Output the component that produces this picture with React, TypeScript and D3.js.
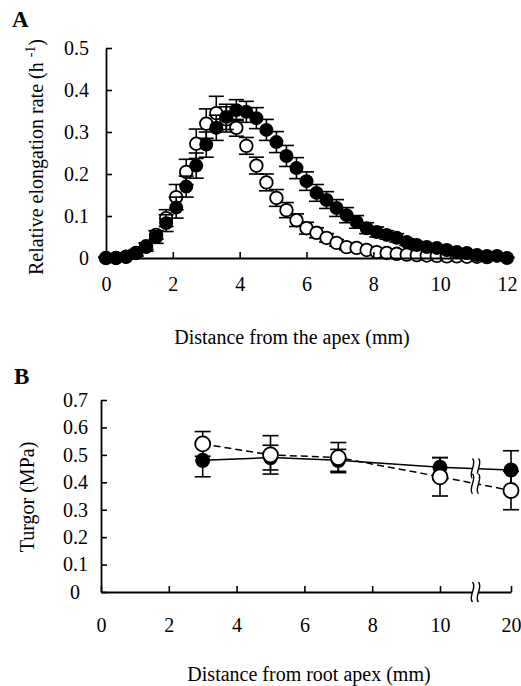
import React, { useEffect, useRef } from "react";
import * as d3 from "d3";

// panel A - relative elongation rate along the root
const distA = [0, 0.3, 0.6, 0.9, 1.2, 1.5, 1.8, 2.1, 2.4, 2.7, 3.0, 3.3, 3.6, 3.9, 4.2, 4.5, 4.8, 5.1, 5.4, 5.7,
  6.0, 6.3, 6.6, 6.9, 7.2, 7.5, 7.8, 8.1, 8.4, 8.7, 9.0, 9.3, 9.6, 9.9, 10.2, 10.5, 10.8, 11.1, 11.4, 11.7, 12.0];
const filledA = [0, 0, 0.003, 0.012, 0.026, 0.05, 0.083, 0.12, 0.17, 0.22, 0.27, 0.31, 0.336, 0.352, 0.348, 0.333,
  0.305, 0.276, 0.243, 0.214, 0.183, 0.155, 0.138, 0.119, 0.102, 0.086, 0.071, 0.062, 0.055, 0.048, 0.038, 0.031,
  0.026, 0.024, 0.019, 0.014, 0.012, 0.007, 0.005, 0.005, 0];
const filledErrA = [0.003, 0.003, 0.005, 0.008, 0.01, 0.015, 0.02, 0.025, 0.025, 0.03, 0.03, 0.03, 0.03, 0.025,
  0.025, 0.025, 0.025, 0.025, 0.025, 0.025, 0.022, 0.02, 0.02, 0.02, 0.018, 0.015, 0.013, 0.012, 0.01, 0.01, 0.008,
  0.008, 0.007, 0.006, 0.005, 0.005, 0.004, 0.004, 0.003, 0.003, 0.002];
const openA = [0, 0, 0.003, 0.012, 0.028, 0.055, 0.095, 0.145, 0.205, 0.272, 0.32, 0.345, 0.33, 0.31, 0.267, 0.22,
  0.18, 0.143, 0.114, 0.09, 0.071, 0.06, 0.048, 0.036, 0.026, 0.024, 0.019, 0.014, 0.012, 0.01, 0.008, 0.007,
  0.006, 0.005, 0.004, 0.004, 0.003, 0.003, 0.002];
const openErrA = [0.003, 0.003, 0.004, 0.006, 0.008, 0.01, 0.02, 0.03, 0.03, 0.035, 0.035, 0.04, 0.03, 0.02, 0.02,
  0.02, 0.02, 0.02, 0.018, 0.015, 0.014, 0.012, 0.01, 0.008, 0.007, 0.006, 0.005, 0.005, 0.004, 0.004, 0.004,
  0.004, 0.004, 0.004, 0.004, 0.004, 0.004, 0.004, 0.004];
const ticksAx = [0, 2, 4, 6, 8, 10, 12];
const ticksAy = [0, 0.1, 0.2, 0.3, 0.4, 0.5];

// panel B - turgor
const distB = [3, 5, 7, 10, 20];
const filledB = [0.48, 0.49, 0.48, 0.455, 0.445];
const filledErrB = [0.06, 0.045, 0.04, 0.035, 0.07];
const openB = [0.54, 0.5, 0.49, 0.42, 0.37];
const openErrB = [0.045, 0.07, 0.055, 0.07, 0.07];
const ticksBx = [0, 2, 4, 6, 8, 10, 20];
const ticksBy = [0, 0.1, 0.2, 0.3, 0.4, 0.5, 0.6, 0.7];
const breakB = 15;

const FONT = "'Liberation Serif', 'DejaVu Serif', serif";

const App = () => {
  const svgRef = useRef<SVGSVGElement>(null);

  useEffect(() => {
    const svg = d3.select(svgRef.current);
    svg.selectAll("*").remove();

    //styling helper for axes
    const styleAxis = (g: any) => {
      g.select(".domain").attr("stroke", "#000").attr("stroke-width", 1.8);
      g.selectAll(".tick line").attr("stroke", "#000").attr("stroke-width", 1.6);
      g.selectAll(".tick text").attr("fill", "#000").style("font-family", FONT).style("font-size", "20px");
    };

    const errBars = (g: any, xs: number[], ys: number[], es: number[], x: any, y: any, cap: number) => {
      xs.forEach((d, i) => {
        const cx = x(d);
        const top = y(ys[i] + es[i]);
        const bot = y(Math.max(0, ys[i] - es[i]));
        g.append("line").attr("x1", cx).attr("x2", cx).attr("y1", top).attr("y2", bot);
        g.append("line").attr("x1", cx - cap).attr("x2", cx + cap).attr("y1", top).attr("y2", top);
        g.append("line").attr("x1", cx - cap).attr("x2", cx + cap).attr("y1", bot).attr("y2", bot);
      });
      g.attr("stroke", "#000").attr("stroke-width", 1.6);
    };

    // ---------- panel A ----------
    const xA = d3.scaleLinear().domain([0, 12]).range([106, 507]);
    const yA = d3.scaleLinear().domain([0, 0.5]).range([258, 48]);

    //open series first, filled drawn over it
    errBars(svg.append("g"), distA.slice(0, openA.length), openA, openErrA, xA, yA, 7.5);
    svg.append("g")
      .selectAll("circle")
      .data(openA)
      .enter()
      .append("circle")
      .attr("cx", (d, i) => xA(distA[i]))
      .attr("cy", (d) => yA(d))
      .attr("r", 6.3)
      .attr("fill", "#fff")
      .attr("stroke", "#000")
      .attr("stroke-width", 1.8);

    errBars(svg.append("g"), distA, filledA, filledErrA, xA, yA, 7.5);
    svg.append("g")
      .selectAll("circle")
      .data(filledA)
      .enter()
      .append("circle")
      .attr("cx", (d, i) => xA(distA[i]))
      .attr("cy", (d) => yA(d))
      .attr("r", 7)
      .attr("fill", "#000");

    svg.append("g")
      .attr("transform", `translate(0,${yA(0)})`)
      .call(d3.axisBottom(xA).tickValues(ticksAx).tickSize(-6).tickSizeOuter(0).tickPadding(19).tickFormat(d3.format("d")))
      .call(styleAxis);
    svg.append("g")
      .attr("transform", `translate(${xA(0)},0)`)
      .call(d3.axisLeft(yA).tickValues(ticksAy).tickSize(-6).tickSizeOuter(0).tickPadding(17)
        .tickFormat((d: any) => (d === 0 ? "0" : d3.format(".1f")(d))))
      .call(styleAxis);

    svg.append("text").attr("x", 12).attr("y", 27)
      .style("font-family", FONT).style("font-size", "23px").style("font-weight", "bold").text("A");

    svg.append("text")
      .attr("x", 292).attr("y", 344)
      .attr("text-anchor", "middle")
      .style("font-family", FONT).style("font-size", "20px")
      .text("Distance from the apex (mm)");

    const yt = svg.append("text")
      .attr("transform", "translate(43,157) rotate(-90)")
      .attr("text-anchor", "middle")
      .style("font-family", FONT).style("font-size", "20px");
    yt.append("tspan").text("Relative elongation rate (h ");
    yt.append("tspan").attr("dy", -8).style("font-size", "14px").text(" -1");
    yt.append("tspan").attr("dy", 8).text(")");

    // ---------- panel B ----------
    const xB = d3.scaleLinear().domain([0, 10, 20]).range([101, 440, 511]);
    const yB = d3.scaleLinear().domain([0, 0.7]).range([592, 400]);

    const line = d3.line<number>().x((d, i) => xB(distB[i])).y((d) => yB(d));
    svg.append("path").datum(filledB).attr("d", line).attr("fill", "none")
      .attr("stroke", "#000").attr("stroke-width", 1.5);
    svg.append("path").datum(openB).attr("d", line).attr("fill", "none")
      .attr("stroke", "#000").attr("stroke-width", 1.5).attr("stroke-dasharray", "7,4");

    //break marks on the lines and the axis
    const brk = (cy: number, h: number) => {
      const cx = xB(breakB);
      svg.append("rect").attr("x", cx - 3).attr("y", cy - h / 2).attr("width", 6).attr("height", h).attr("fill", "#fff");
      [-3, 3].forEach((o) => {
        svg.append("path")
          .attr("d", `M${cx + o},${cy - h / 2} C${cx + o + 5},${cy - h / 4} ${cx + o - 5},${cy + h / 4} ${cx + o},${cy + h / 2}`)
          .attr("fill", "none").attr("stroke", "#000").attr("stroke-width", 1.4);
      });
    };
    const interp = (arr: number[]) => arr[3] + ((arr[4] - arr[3]) * (breakB - 10)) / 10;
    brk(yB(interp(filledB)), 20);
    brk(yB(interp(openB)), 20);

    errBars(svg.append("g"), distB, filledB, filledErrB, xB, yB, 8);
    svg.append("g").selectAll("circle").data(filledB).enter().append("circle")
      .attr("cx", (d, i) => xB(distB[i])).attr("cy", (d) => yB(d)).attr("r", 7.5).attr("fill", "#000");
    errBars(svg.append("g"), distB, openB, openErrB, xB, yB, 8);
    svg.append("g").selectAll("circle").data(openB).enter().append("circle")
      .attr("cx", (d, i) => xB(distB[i])).attr("cy", (d) => yB(d)).attr("r", 7.5)
      .attr("fill", "#fff").attr("stroke", "#000").attr("stroke-width", 1.8);

    svg.append("g")
      .attr("transform", `translate(0,${yB(0)})`)
      .call(d3.axisBottom(xB).tickValues(ticksBx).tickSize(-6).tickSizeOuter(0).tickPadding(26).tickFormat(d3.format("d")))
      .call(styleAxis);
    svg.append("g")
      .attr("transform", `translate(${xB(0)},0)`)
      .call(d3.axisLeft(yB).tickValues(ticksBy).tickSize(-6).tickSizeOuter(0).tickPadding(13)
        .tickFormat((d: any) => (d === 0 ? "0" : d3.format(".1f")(d))))
      .call(styleAxis)
      .call((g: any) => g.selectAll(".tick text").filter((d: any) => d === 0).attr("x", -21));
    brk(yB(0), 20);

    svg.append("text").attr("x", 14).attr("y", 384)
      .style("font-family", FONT).style("font-size", "23px").style("font-weight", "bold").text("B");

    svg.append("text")
      .attr("x", 309).attr("y", 681)
      .attr("text-anchor", "middle")
      .style("font-family", FONT).style("font-size", "20px")
      .text("Distance from root apex (mm)");

    svg.append("text")
      .attr("transform", "translate(34,497) rotate(-90)")
      .attr("text-anchor", "middle")
      .style("font-family", FONT).style("font-size", "20px")
      .text("Turgor (MPa)");
  }, []);

  return (
    <svg ref={svgRef} width={521} height={686}
      style={{ position: "absolute", left: 0, top: 0, background: "#fff" }} />
  );
};

export default App;
